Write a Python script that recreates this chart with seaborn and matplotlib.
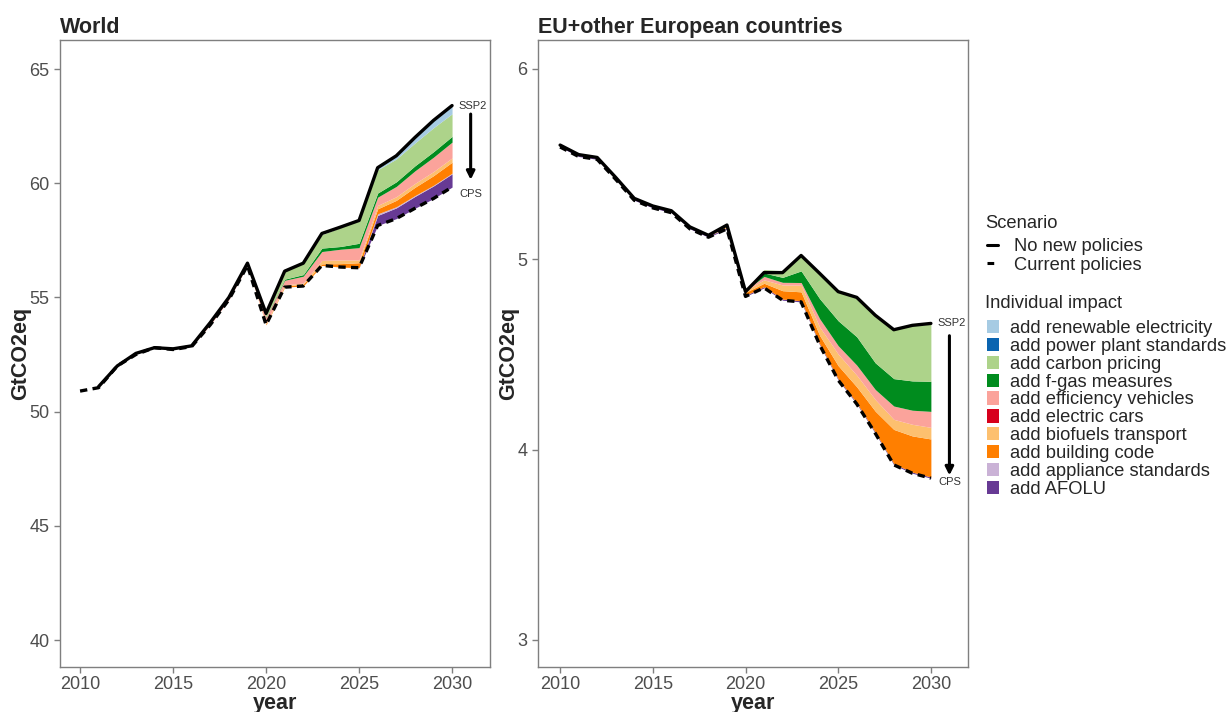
import numpy as np
import matplotlib
matplotlib.use("Agg")
import matplotlib.pyplot as plt
from matplotlib.lines import Line2D
from matplotlib.patches import Patch
import seaborn as sns

# years shown in both panels
years = list(range(2010, 2031))

# World, GtCO2eq
world_ssp2 = [np.nan, 51.1, 52.0, 52.55, 52.8, 52.75, 52.88, 53.9, 55.0, 56.5, 54.3,
              56.15, 56.5, 57.8, 58.08, 58.37, 60.68, 61.2, 62.0, 62.75, 63.4]
world_cps = [50.9, 51.05, 52.0, 52.5, 52.8, 52.72, 52.85, 53.8, 54.9, 56.4, 53.8,
             55.45, 55.5, 56.4, 56.33, 56.3, 58.15, 58.45, 58.9, 59.33, 59.83]

# World impact of each measure (bottom of stack first = AFOLU)
w_afolu = [0]*16 + [0.44, 0.47, 0.52, 0.55, 0.58]
w_appliance = [0]*16 + [0.07, 0.05, 0.04, 0.03, 0.03]
w_building = [0]*10 + [0.04, 0.05, 0.08, 0.07, 0.15, 0.22, 0.22, 0.28, 0.36, 0.42, 0.48]
w_biofuels = [0]*10 + [0.04, 0.05, 0.05, 0.15, 0.16, 0.12, 0.15, 0.16, 0.17, 0.18, 0.19]
w_ecars = [0]*21
w_effveh = [0]*7 + [0.1, 0.1, 0.1, 0.25, 0.2, 0.3, 0.39, 0.47, 0.54, 0.36, 0.45, 0.55, 0.63, 0.69]
w_fgas = [0]*10 + [0.02, 0.05, 0.07, 0.15, 0.12, 0.19, 0.18, 0.2, 0.22, 0.24, 0.25]
w_carbon = [0]*10 + [0.15, 0.34, 0.5, 0.58, 0.83, 1.02, 1.02, 1.0, 1.0, 1.05, 0.99]
w_powerplant = [0]*21
w_renew = [0]*16 + [0.09, 0.15, 0.22, 0.3, 0.365]

# EU+other European countries, GtCO2eq
eu_ssp2 = [5.6, 5.55, 5.535, 5.43, 5.32, 5.28, 5.255, 5.17, 5.126, 5.18, 4.83,
           4.93, 4.93, 5.02, 4.926, 4.83, 4.80, 4.706, 4.63, 4.653, 4.663]
eu_cps = [5.59, 5.54, 5.525, 5.42, 5.31, 5.27, 5.245, 5.16, 5.116, 5.16, 4.805,
          4.85, 4.785, 4.776, 4.55, 4.365, 4.24, 4.086, 3.92, 3.876, 3.85]

e_afolu = [0.006]*21
e_appliance = [0]*21
e_building = [0]*10 + [0.015, 0.018, 0.044, 0.047, 0.044, 0.07, 0.084, 0.11, 0.18, 0.19, 0.20]
e_biofuels = [0]*9 + [0.01, 0.01, 0.018, 0.03, 0.035, 0.044, 0.061, 0.061, 0.061, 0.053, 0.061, 0.061]
e_ecars = [0]*21
e_effveh = [0]*11 + [0.018, 0.014, 0.014, 0.044, 0.044, 0.053, 0.053, 0.07, 0.074, 0.084]
e_fgas = [0]*11 + [0.018, 0.026, 0.061, 0.105, 0.131, 0.149, 0.14, 0.144, 0.154, 0.158]
e_carbon = [0]*11 + [0.018, 0.035, 0.088, 0.14, 0.158, 0.21, 0.254, 0.263, 0.29, 0.30]
e_powerplant = [0]*21
e_renew = [0]*21

measures = ["add renewable electricity", "add power plant standards", "add carbon pricing",
            "add f-gas measures", "add efficiency vehicles", "add electric cars",
            "add biofuels transport", "add building code", "add appliance standards",
            "add AFOLU"]
colors = ["#A6CBE3", "#0A64B0", "#ADD38A", "#008C1E", "#FBA39B",
          "#D7001C", "#FDC06F", "#FF7F00", "#CAB2D6", "#673A94"]

world_layers = [w_renew, w_powerplant, w_carbon, w_fgas, w_effveh,
                w_ecars, w_biofuels, w_building, w_appliance, w_afolu]
eu_layers = [e_renew, e_powerplant, e_carbon, e_fgas, e_effveh,
             e_ecars, e_biofuels, e_building, e_appliance, e_afolu]

sns.set_style("white")
plt.rcParams["font.family"] = ["Liberation Sans", "DejaVu Sans"]

fig = plt.figure(figsize=(12.29, 7.12), dpi=100)
ax1 = fig.add_axes([0.0488, 0.0632, 0.3499, 0.8806])
ax2 = fig.add_axes([0.4378, 0.0632, 0.3498, 0.8806])


def draw_panel(ax, title, ssp2, cps, layers, xlim, ylim, yticks, off):
    # stacked impacts from the current-policy line upwards
    base = np.array(cps, dtype=float)
    for layer, col in zip(layers[::-1], colors[::-1]):
        top = base + np.array(layer)
        ax.fill_between(years, base, top, color=col, lw=0)
        base = top
    sns.lineplot(x=years, y=ssp2, ax=ax, color="black", lw=2.4)
    sns.lineplot(x=years, y=cps, ax=ax, color="black", lw=2.4, linestyle=(0, (2.2, 1.6)))

    # arrow from SSP2 to CPS at the end of the period
    xa = years[-1] + 1.0
    ax.annotate("", xy=(xa, cps[-1] + off[2]), xytext=(xa, ssp2[-1] + off[1]),
                arrowprops=dict(arrowstyle="-|>", color="black", lw=2.2, mutation_scale=12))
    ax.text(xa + 0.1, ssp2[-1] + off[0], "SSP2", ha="center", va="center",
            fontsize=8, color="#333333")
    ax.text(xa, cps[-1] + off[3], "CPS", ha="center", va="center",
            fontsize=8, color="#333333")

    ax.set_xlim(*xlim)
    ax.set_ylim(*ylim)
    ax.set_xticks([2010, 2015, 2020, 2025, 2030])
    ax.set_yticks(yticks)
    ax.tick_params(axis="both", direction="out", length=4, width=1, color="#7f7f7f",
                   labelsize=13, labelcolor="#4D4D4D", bottom=True, left=True)
    ax.tick_params(axis="x", pad=2.5)
    for s in ax.spines.values():
        s.set_color("#7f7f7f")
        s.set_linewidth(1)
    ax.set_title(title, loc="left", fontweight="bold", fontsize=15.5, pad=5)
    ax.set_xlabel("year", fontweight="bold", fontsize=15.5)
    ax.set_ylabel("GtCO2eq", fontweight="bold", fontsize=15.5)
    ax.xaxis.set_label_coords(0.5, -0.042)
    ax.grid(False)


draw_panel(ax1, "World", world_ssp2, world_cps, world_layers,
           (2008.92, 2032.04), (38.82, 66.27), [40, 45, 50, 55, 60, 65],
           (0.0, -0.25, 0.2, -0.28))
ax1.yaxis.set_label_coords(-0.067, 0.5)

draw_panel(ax2, "EU+other European countries", eu_ssp2, eu_cps, eu_layers,
           (2008.81, 2032.0), (2.858, 6.152), [3, 4, 5, 6],
           (0.0, -0.05, 0.0, -0.02))
ax2.yaxis.set_label_coords(-0.044, 0.5)

# legends (titles as separate texts so the gaps match)
fs = 13.2
fig.text(985 / 1229, 1 - 223 / 712, "Scenario", fontsize=fs, va="center", ha="left")
fig.text(985 / 1229, 1 - 304 / 712, "Individual impact", fontsize=fs, va="center", ha="left")

scen_handles = [Line2D([], [], color="black", lw=2.2),
                Line2D([], [], color="black", lw=2.2, linestyle=(0, (2.2, 1.6)))]
fig.legend(scen_handles, ["No new policies", "Current policies"],
           loc="upper left", bbox_to_anchor=(987 / 1229, 1 - 238 / 712), frameon=False,
           fontsize=fs, handlelength=0.6, handletextpad=0.9,
           labelspacing=0.1, borderaxespad=0, borderpad=0)

imp_handles = [Patch(facecolor=c, edgecolor="none") for c in colors]
fig.legend(imp_handles, measures,
           loc="upper left", bbox_to_anchor=(987 / 1229, 1 - 320 / 712), frameon=False,
           fontsize=fs, handlelength=0.65, handleheight=0.75,
           handletextpad=0.6, labelspacing=0.04, borderaxespad=0, borderpad=0)

fig.savefig("out.png", dpi=100)
